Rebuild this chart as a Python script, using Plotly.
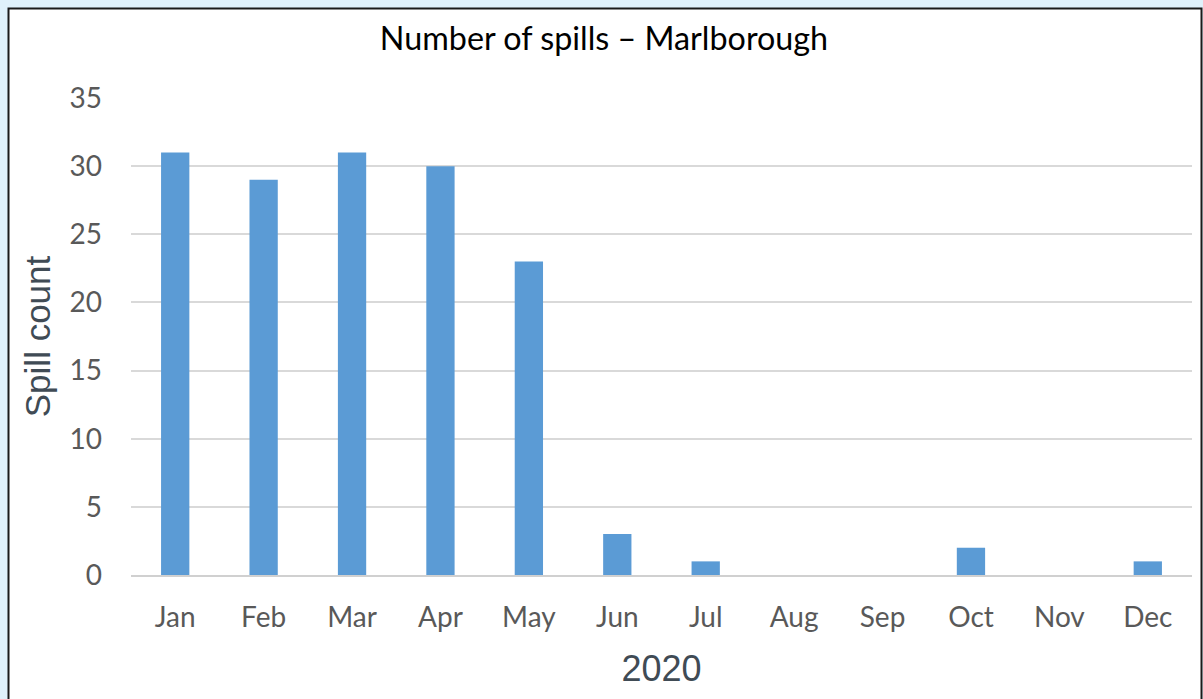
import plotly.graph_objects as go

months = ["Jan", "Feb", "Mar", "Apr", "May", "Jun", "Jul", "Aug", "Sep", "Oct", "Nov", "Dec"]
spills = [31, 29, 31, 30, 23, 3, 1, 0, 0, 2, 0, 1]
y_ticks = [0, 5, 10, 15, 20, 25, 30, 35]

W, H = 1203, 699
L, R, T, B = 131, 11, 98, 124
pw, ph = W - L - R, H - T - B

def px(x):
    return (x - L) / pw

def py(y):
    return (H - B - y) / ph

fig = go.Figure(go.Bar(
    x=months, y=spills,
    marker=dict(color="#5b9bd5", line=dict(width=0)),
))

fig.update_layout(
    width=W, height=H,
    margin=dict(l=L, r=R, t=T, b=B),
    paper_bgcolor="#dff1fb",
    plot_bgcolor="rgba(0,0,0,0)",
    bargap=0.68,
    showlegend=False,
    title=dict(text="Number of spills – Marlborough", x=604 / W,
               xanchor="center", y=1 - 39 / H, yanchor="middle",
               font=dict(family="Lato", size=32.3, color="#000000")),
    shapes=[dict(type="rect", xref="paper", yref="paper",
                 x0=px(8.5), x1=px(1201.5), y0=py(720), y1=py(8.5),
                 fillcolor="#ffffff", line=dict(color="#1a1a1a", width=2), layer="below")],
)
fig.update_xaxes(
    showgrid=False, showline=True, linecolor="#d0d0d0", linewidth=2,
    ticks="", ticklabelstandoff=16, tickfont=dict(family="Lato", size=28, color="#595959"),
    title=dict(text="2020", font=dict(family="Liberation Sans", size=36, color="#404b55"), standoff=24),
)
fig.update_yaxes(
    range=[0, 35], tickvals=y_ticks, showgrid=True, gridcolor="#d9d9d9", gridwidth=2,
    zeroline=False, showline=False, ticks="", ticklabelstandoff=28,
    tickfont=dict(family="Lato", size=28, color="#595959"),
    title=dict(text="Spill count", font=dict(family="Liberation Sans", size=35, color="#404b55"), standoff=8),
)

fig.write_html(
    "out.html",
    config={"displayModeBar": False},
    post_script="document.body.style.margin='0';document.body.style.overflow='hidden';"
                "document.body.style.background='#dff1fb';",
)
